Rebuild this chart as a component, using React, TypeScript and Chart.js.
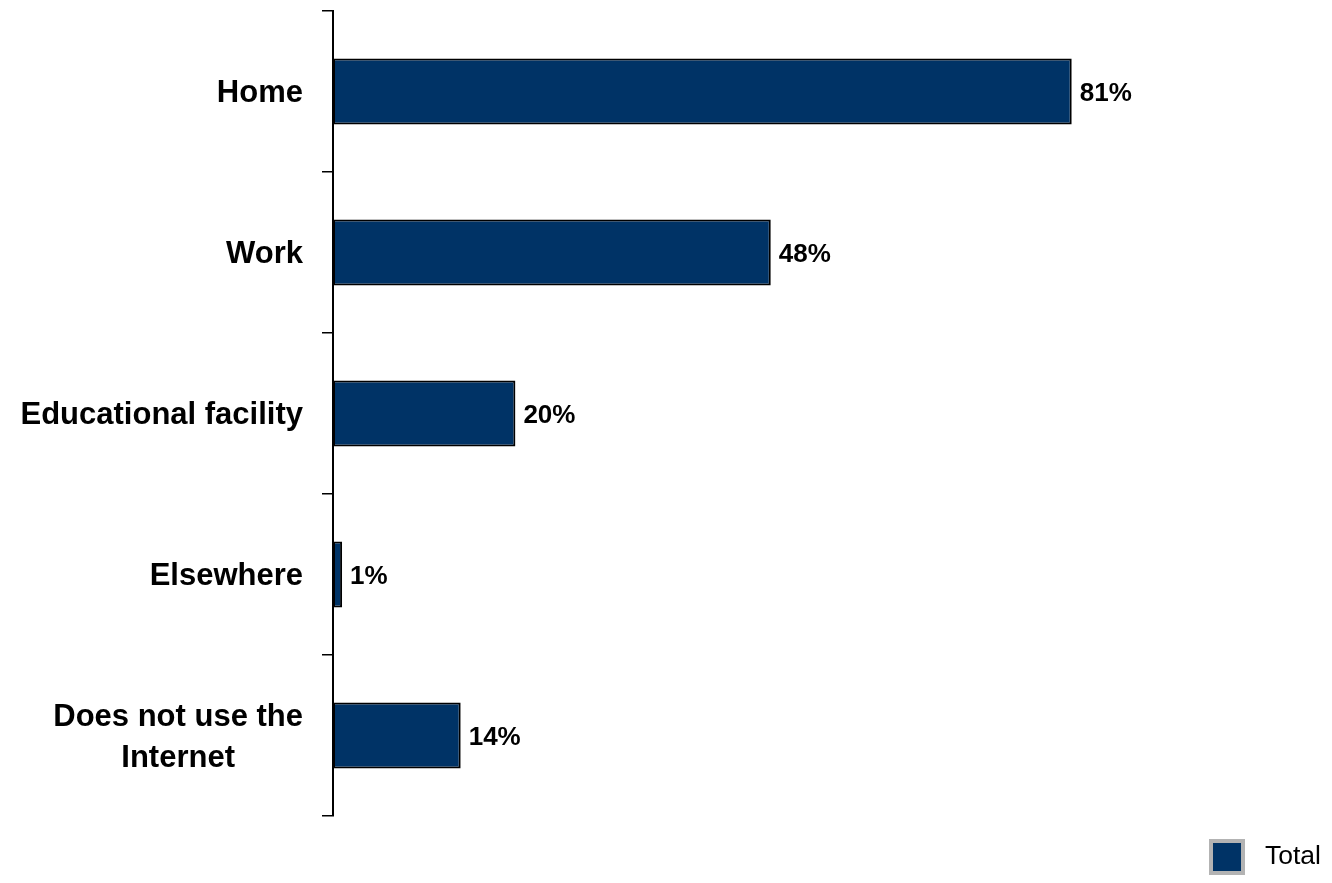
import React, { useEffect, useRef } from "react";
import { Chart, registerables } from "chart.js";

Chart.register(...registerables);

const categories: (string | string[])[] = [
  "Home",
  "Work",
  "Educational facility",
  "Elsewhere",
  ["Does not use the", "Internet"],
];
const totalValues: number[] = [81, 48, 20, 1, 14];
const seriesName = "Total";
const xMax = 100;

const BAR_COLOR = "#003366";
const FONT = "'Liberation Sans', Arial, sans-serif";

export default function App() {
  const canvasRef = useRef<HTMLCanvasElement | null>(null);

  useEffect(() => {
    if (!canvasRef.current) return;

    const labelsPlugin = {
      id: "customText",
      afterDraw(chart: any) {
        const ctx = chart.ctx;
        const yScale = chart.scales.y;
        ctx.save();
        // category labels
        ctx.fillStyle = "#000";
        ctx.font = `bold 31px ${FONT}`;
        ctx.textBaseline = "middle";
        const rightEdge = chart.chartArea.left - 30;
        const lineH = 41;
        categories.forEach((lab, i) => {
          const yc = yScale.getPixelForValue(i) + 2;
          const lines = Array.isArray(lab) ? lab : [lab];
          const widths = lines.map((l) => ctx.measureText(l).width);
          const maxW = Math.max(...widths);
          const center = rightEdge - maxW / 2;
          lines.forEach((l, j) => {
            const y = yc + (j - (lines.length - 1) / 2) * lineH;
            ctx.textAlign = "center";
            ctx.fillText(l, center, y);
          });
        });
        // value labels
        ctx.font = `bold 26px ${FONT}`;
        ctx.textAlign = "left";
        const meta = chart.getDatasetMeta(0);
        meta.data.forEach((bar: any, i: number) => {
          ctx.fillText(totalValues[i] + "%", bar.x + 8, bar.y + 2);
        });
        // legend
        const lx = 1209;
        const ly = 839;
        ctx.fillStyle = "#b3b3b3";
        ctx.fillRect(lx, ly, 36, 36);
        ctx.fillStyle = BAR_COLOR;
        ctx.fillRect(lx + 4, ly + 4, 28, 28);
        ctx.fillStyle = "#000";
        ctx.font = `26.5px ${FONT}`;
        ctx.textAlign = "left";
        ctx.fillText(seriesName, 1265, ly + 18);
        ctx.restore();
      },
    };

    const chart = new Chart(canvasRef.current, {
      type: "bar",
      data: {
        labels: categories.map((c) => (Array.isArray(c) ? c.join(" ") : c)),
        datasets: [
          {
            label: seriesName,
            data: totalValues,
            backgroundColor: BAR_COLOR,
            borderColor: "#000",
            borderWidth: 2,
            borderSkipped: false,
            barPercentage: 0.41,
            categoryPercentage: 1,
          },
        ],
      },
      options: {
        indexAxis: "y",
        animation: false,
        responsive: true,
        maintainAspectRatio: false,
        layout: { padding: { left: 0, right: 87, top: 11, bottom: 67 } },
        plugins: {
          legend: { display: false },
          tooltip: { enabled: false },
        },
        scales: {
          x: {
            display: false,
            min: 0,
            max: xMax,
          },
          y: {
            type: "category",
            offset: true,
            afterFit(scale: any) {
              scale.width = 333;
            },
            ticks: { display: false },
            grid: {
              display: true,
              offset: true,
              drawOnChartArea: false,
              drawTicks: true,
              tickLength: 11,
              color: "#000",
              lineWidth: 1.5,
            },
            border: { display: true, color: "#000", width: 2 },
          },
        },
      },
      plugins: [labelsPlugin],
    });

    return () => chart.destroy();
  }, []);

  return (
    <div
      style={{
        position: "absolute",
        left: 0,
        top: 0,
        width: 1332,
        height: 883,
        background: "#fff",
      }}
    >
      <canvas ref={canvasRef} />
    </div>
  );
}
